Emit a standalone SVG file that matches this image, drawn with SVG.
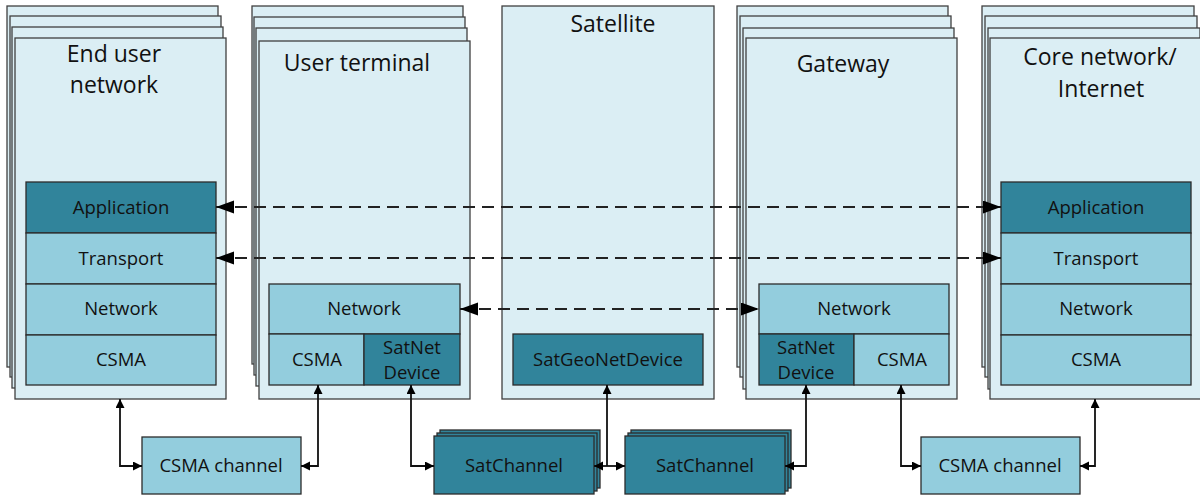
<svg xmlns="http://www.w3.org/2000/svg" width="1200" height="497" viewBox="0 0 1200 497">
<style>
.bg{fill:#DBEEF4;stroke:#404040;stroke-width:1.3}
.mid{fill:#93CDDD;stroke:#2b2b2b;stroke-width:1.3}
.dark{fill:#31849B;stroke:#2b2b2b;stroke-width:1.3}
.title{font-family:"Open Sans","Noto Sans",sans-serif;font-size:23px;fill:#111;text-anchor:middle}
.lbl{font-family:"Open Sans","Noto Sans",sans-serif;font-size:18.5px;fill:#111;text-anchor:middle}
.conn{fill:none;stroke:#111;stroke-width:1.8}
.dash{fill:none;stroke:#222;stroke-width:1.8;stroke-dasharray:12 7}
</style>
<defs>
<marker id="big" markerUnits="userSpaceOnUse" markerWidth="20" markerHeight="14" refX="18" refY="6.5" orient="auto-start-reverse"><path d="M0,0 L18,6.5 L0,13 z" fill="#000"/></marker>
<marker id="small" markerUnits="userSpaceOnUse" markerWidth="10" markerHeight="10" refX="9" refY="4.5" orient="auto-start-reverse"><path d="M0,0 L9,4.5 L0,9 z" fill="#000"/></marker>
</defs>

<g id="end-user-network">
<rect class="bg" x="7" y="6" width="211" height="361"/>
<rect class="bg" x="10" y="16" width="211" height="361"/>
<rect class="bg" x="12" y="27" width="211" height="361"/>
<rect class="bg" x="15" y="38" width="211" height="361"/>
<text class="title" x="114" y="62">End user</text>
<text class="title" x="114" y="93">network</text>
<rect class="dark" x="26" y="182" width="190" height="51"/>
<text class="lbl" x="121" y="214">Application</text>
<rect class="mid" x="26" y="233" width="190" height="51"/>
<text class="lbl" x="121" y="265">Transport</text>
<rect class="mid" x="26" y="284" width="190" height="51"/>
<text class="lbl" x="121" y="315">Network</text>
<rect class="mid" x="26" y="335" width="190" height="50"/>
<text class="lbl" x="121" y="366">CSMA</text>
</g>

<g id="user-terminal">
<rect class="bg" x="252" y="6" width="211" height="358"/>
<rect class="bg" x="254" y="17" width="211" height="358"/>
<rect class="bg" x="256" y="28" width="211" height="358"/>
<rect class="bg" x="259" y="41" width="211" height="358"/>
<text class="title" x="357" y="71">User terminal</text>
<rect class="mid" x="269" y="284" width="191" height="50"/>
<text class="lbl" x="364" y="315">Network</text>
<rect class="mid" x="269" y="334" width="95" height="51"/>
<text class="lbl" x="317" y="366">CSMA</text>
<rect class="dark" x="364" y="334" width="96" height="51"/>
<text class="lbl" x="412" y="354">SatNet</text>
<text class="lbl" x="412" y="379">Device</text>
</g>

<g id="satellite">
<rect class="bg" x="502" y="6" width="212" height="393"/>
<text class="title" x="613" y="32">Satellite</text>
<rect class="dark" x="513" y="334" width="190" height="51"/>
<text class="lbl" x="608" y="366">SatGeoNetDevice</text>
</g>

<g id="gateway">
<rect class="bg" x="737" y="6" width="211" height="361"/>
<rect class="bg" x="740" y="16" width="211" height="361"/>
<rect class="bg" x="743" y="28" width="211" height="361"/>
<rect class="bg" x="746" y="38" width="211" height="361"/>
<text class="title" x="843" y="72">Gateway</text>
<rect class="mid" x="759" y="284" width="190" height="50"/>
<text class="lbl" x="854" y="315">Network</text>
<rect class="dark" x="759" y="334" width="95" height="51"/>
<text class="lbl" x="806" y="354">SatNet</text>
<text class="lbl" x="806" y="379">Device</text>
<rect class="mid" x="854" y="334" width="95" height="51"/>
<text class="lbl" x="902" y="366">CSMA</text>
</g>

<g id="core-network">
<rect class="bg" x="982" y="6" width="212" height="361"/>
<rect class="bg" x="985" y="16" width="212" height="361"/>
<rect class="bg" x="988" y="28" width="212" height="361"/>
<rect class="bg" x="990" y="38" width="212" height="361"/>
<text class="title" x="1100" y="65">Core network/</text>
<text class="title" x="1101" y="97">Internet</text>
<rect class="dark" x="1001" y="182" width="190" height="51"/>
<text class="lbl" x="1096" y="214">Application</text>
<rect class="mid" x="1001" y="233" width="190" height="51"/>
<text class="lbl" x="1096" y="265">Transport</text>
<rect class="mid" x="1001" y="284" width="190" height="51"/>
<text class="lbl" x="1096" y="315">Network</text>
<rect class="mid" x="1001" y="335" width="190" height="50"/>
<text class="lbl" x="1096" y="366">CSMA</text>
</g>

<g id="csma-channel-1">
<rect class="mid" x="142" y="437" width="159" height="57"/>
<text class="lbl" x="221" y="472">CSMA channel</text>
</g>

<g id="satchannel-1">
<rect class="dark" x="440" y="430" width="160" height="58"/>
<rect class="dark" x="437" y="433" width="160" height="58"/>
<rect class="dark" x="434" y="436" width="160" height="58"/>
<text class="lbl" x="514" y="472">SatChannel</text>
</g>

<g id="satchannel-2">
<rect class="dark" x="631" y="430" width="160" height="58"/>
<rect class="dark" x="628" y="433" width="160" height="58"/>
<rect class="dark" x="625" y="436" width="160" height="58"/>
<text class="lbl" x="705" y="472">SatChannel</text>
</g>

<g id="csma-channel-2">
<rect class="mid" x="921" y="437" width="159" height="57"/>
<text class="lbl" x="1000" y="472">CSMA channel</text>
</g>

<g id="connectors">
<path class="dash" d="M216,207 H1001" marker-start="url(#big)" marker-end="url(#big)"/>
<path class="dash" d="M216,258 H1001" marker-start="url(#big)" marker-end="url(#big)"/>
<path class="dash" d="M460,309 H759" marker-start="url(#big)" marker-end="url(#big)"/>
<path class="conn" d="M120,399 V466 H142" marker-start="url(#small)" marker-end="url(#small)"/>
<path class="conn" d="M318,385 V466 H301" marker-start="url(#small)" marker-end="url(#small)"/>
<path class="conn" d="M411,385 V466 H434" marker-start="url(#small)" marker-end="url(#small)"/>
<path class="conn" d="M607,385 V466" marker-start="url(#small)"/>
<path class="conn" d="M594,466 H625" marker-start="url(#small)" marker-end="url(#small)"/>
<path class="conn" d="M806,385 V466 H785" marker-start="url(#small)" marker-end="url(#small)"/>
<path class="conn" d="M901,385 V466 H921" marker-start="url(#small)" marker-end="url(#small)"/>
<path class="conn" d="M1095,399 V466 H1080" marker-start="url(#small)" marker-end="url(#small)"/>
</g>
</svg>
